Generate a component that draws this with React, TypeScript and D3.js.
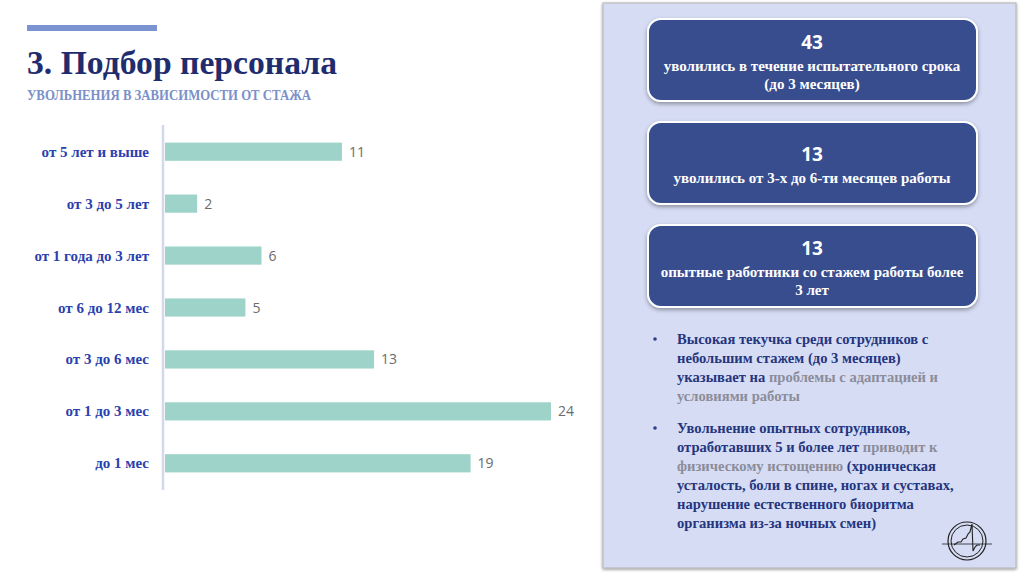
import React from "react";
import * as d3 from "d3";

const categories = [
  "от 5 лет и выше",
  "от 3 до 5 лет",
  "от 1 года до 3 лет",
  "от 6 до 12 мес",
  "от 3 до 6 мес",
  "от 1 до 3 мес",
  "до 1 мес",
];
const values = [11, 2, 6, 5, 13, 24, 19];

const cards = [
  { num: "43", lines: ["уволились в течение испытательного срока", "(до 3 месяцев)"] },
  { num: "13", lines: ["уволились от 3-х до 6-ти месяцев работы"] },
  { num: "13", lines: ["опытные работники со стажем работы более", "3 лет"] },
];

type Seg = { t: string; g?: boolean };
const bullets: Seg[][][] = [
  [
    [{ t: "Высокая текучка среди сотрудников с" }],
    [{ t: "небольшим стажем (до 3 месяцев)" }],
    [{ t: "указывает на " }, { t: "проблемы с адаптацией и", g: true }],
    [{ t: "условиями работы", g: true }],
  ],
  [
    [{ t: "Увольнение опытных сотрудников," }],
    [{ t: "отработавших 5 и более лет " }, { t: "приводит к", g: true }],
    [{ t: "физическому истощению", g: true }, { t: " (хроническая" }],
    [{ t: "усталость, боли в спине, ногах и суставах," }],
    [{ t: "нарушение естественного биоритма" }],
    [{ t: "организма из-за ночных смен)" }],
  ],
];

const serif = "'Liberation Serif', 'DejaVu Serif', serif";
const sans = "'Open Sans', 'Noto Sans', sans-serif";

export default function App() {
  const x = d3.scaleLinear().domain([0, 24]).range([165, 551]);
  const y = d3.scaleBand().domain(categories).range([126, 489]).paddingInner(0.65).paddingOuter(0.32);
  const cardTop = [19, 122, 225];
  return (
    <svg width={1024} height={574} style={{ position: "absolute", left: 0, top: 0, background: "#fff" }}>
      <defs>
        <filter id="sh" x="-10%" y="-20%" width="120%" height="150%">
          <feDropShadow dx="0" dy="2" stdDeviation="2" floodColor="#000" floodOpacity="0.35" />
        </filter>
        <filter id="psh" x="-5%" y="-5%" width="110%" height="110%">
          <feDropShadow dx="0" dy="1" stdDeviation="1.5" floodColor="#000" floodOpacity="0.45" />
        </filter>
      </defs>
      <rect x={27} y={25} width={130} height={6} fill="#7b93d1" />
      <text x={27} y={74} fontFamily={serif} fontWeight="bold" fontSize={33} fill="#1f2d6e" textLength={310} lengthAdjust="spacingAndGlyphs">3. Подбор персонала</text>
      <text x={27} y={100} fontFamily={serif} fontWeight="bold" fontSize={14.5} fill="#7b8fc9" textLength={284} lengthAdjust="spacingAndGlyphs">УВОЛЬНЕНИЯ В ЗАВИСИМОСТИ ОТ СТАЖА</text>

      <line x1={163} x2={163} y1={125} y2={490} stroke="#d3d8ee" strokeWidth={2.5} />
      {categories.map((c, i) => {
        const yy = y(c)!;
        const bh = y.bandwidth();
        return (
          <g key={c}>
            <rect x={x(0)} y={yy} width={x(values[i]) - x(0)} height={bh} fill="#9dd3c8" />
            <text x={149} y={yy + bh / 2 + 5} textAnchor="end" fontFamily={serif} fontWeight="bold" fontSize={15} fill="#2b3fae">{c}</text>
            <text x={x(values[i]) + 7} y={yy + bh / 2 + 5} fontFamily={sans} fontSize={14} fill="#6b6b6b">{values[i]}</text>
          </g>
        );
      })}

      <rect x={603} y={3} width={413} height={565} fill="#d6dcf4" stroke="#b4b4b4" strokeWidth={1} filter="url(#psh)" />

      {cards.map((c, i) => {
        const top = cardTop[i];
        const h = 82;
        const n = c.lines.length;
        const numY = n === 2 ? top + 30 : top + 39;
        return (
          <g key={i}>
            <rect x={648} y={top} width={329} height={h} rx={13} fill="#384d8e" stroke="#ffffff" strokeWidth={2} filter="url(#sh)" />
            <text x={812} y={numY} textAnchor="middle" fontFamily={sans} fontWeight="bold" fontSize={19} fill="#fff">{c.num}</text>
            {c.lines.map((l, j) => (
              <text key={j} x={812} y={numY + 22 + j * 18} textAnchor="middle" fontFamily={serif} fontWeight="bold" fontSize={15} fill="#fff">{l}</text>
            ))}
          </g>
        );
      })}

      {bullets.map((b, bi) => {
        const y0 = bi === 0 ? 344 : 433;
        return (
          <g key={bi}>
            <circle cx={655} cy={y0 - 5} r={1.8} fill="#2a3f8a" />
            {b.map((line, li) => (
              <text key={li} x={677} y={y0 + li * 19} fontFamily={serif} fontWeight="bold" fontSize={14.6} fill="#25357e">
                {line.map((s, si) => (
                  <tspan key={si} fill={s.g ? "#8c8c99" : "#25357e"}>{s.t}</tspan>
                ))}
              </text>
            ))}
          </g>
        );
      })}

      <g transform="translate(967,541)" fill="none" stroke="#222">
        <circle r={19} strokeWidth={1.2} />
        <circle r={16} strokeWidth={1} />
        <line x1={-25} x2={25} y1={3} y2={3} strokeWidth={0.8} />
        <path d="M-13,4 L-9,1 L-6,1 L-4,-2 L-1,-3 L1,-7 L3,-9 L5,-17 L6,10 L8,6 L10,4 L13,4" strokeWidth={1.1} />
      </g>
    </svg>
  );
}
